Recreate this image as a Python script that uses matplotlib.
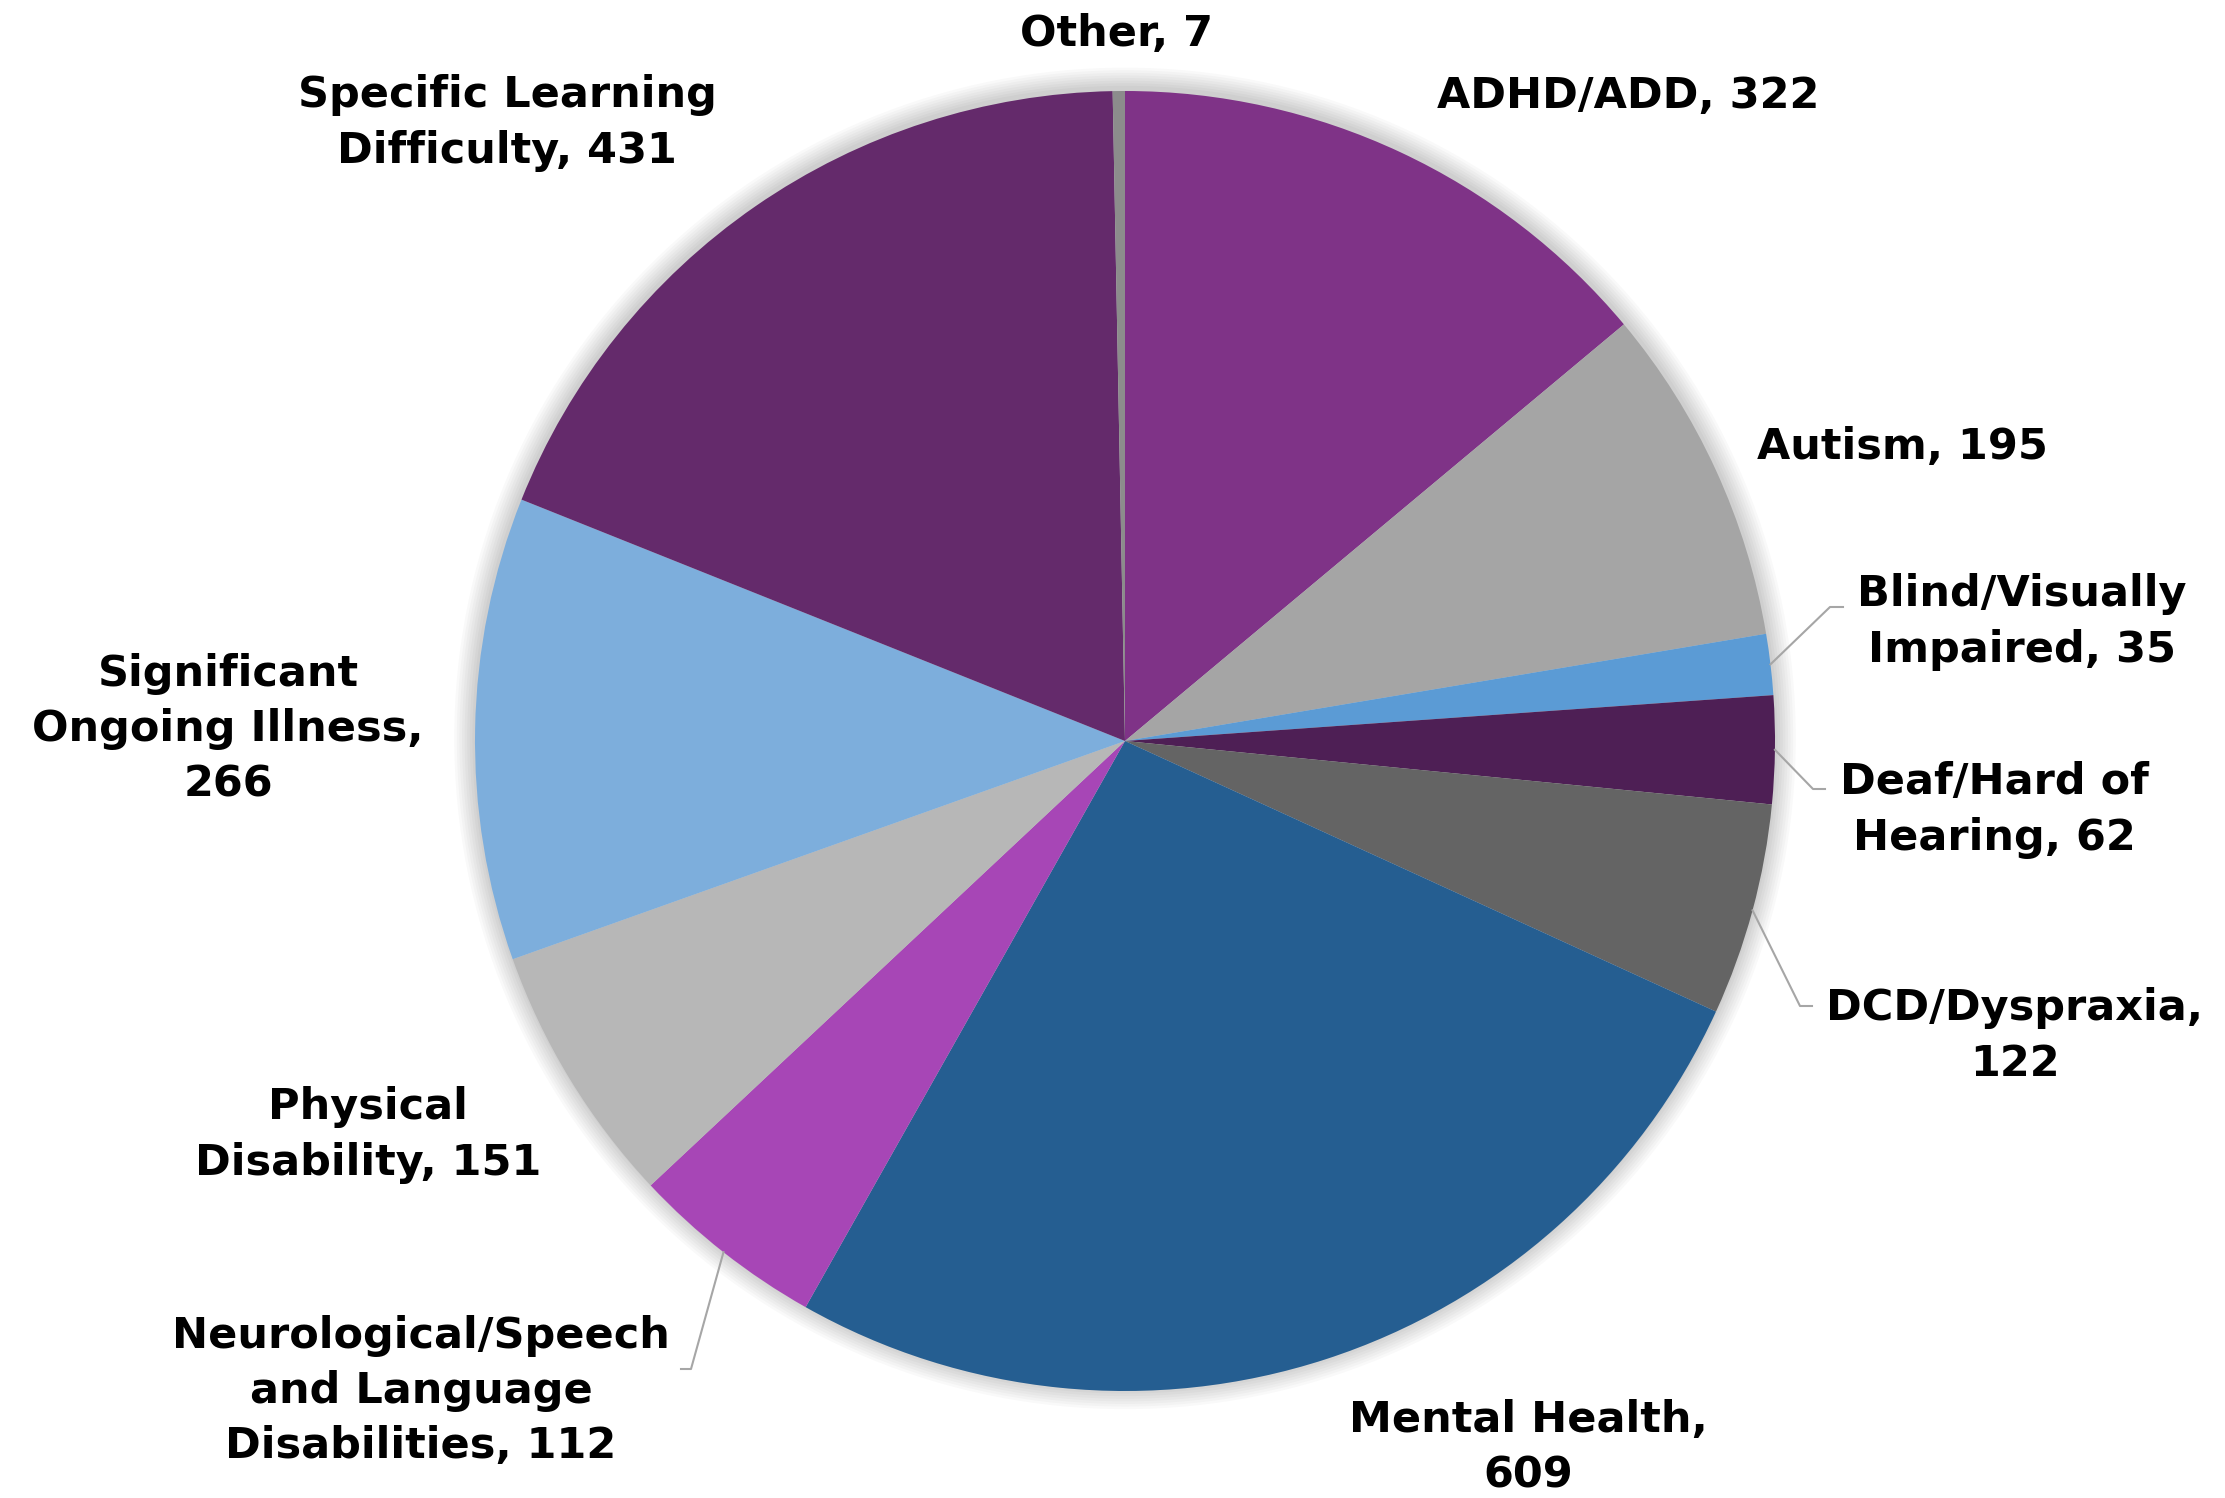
import matplotlib.pyplot as plt
from matplotlib.patches import Circle
import numpy as np

categories = ["ADHD/ADD", "Autism", "Blind/Visually\nImpaired", "Deaf/Hard of\nHearing",
              "DCD/Dyspraxia,\n", "Mental Health,\n", "Neurological/Speech\nand Language\nDisabilities",
              "Physical\nDisability", "Significant\nOngoing Illness,\n", "Specific Learning\nDifficulty", "Other"]
values = [322, 195, 35, 62, 122, 609, 112, 151, 266, 431, 7]
colors = ["#7F3387", "#A5A5A5", "#5B9BD5", "#4E1F55", "#646464", "#255E91",
          "#A746B6", "#B7B7B7", "#7DAEDC", "#642A6B", "#8C8C8C"]

# layout (pixels in the 2225x1498 image)
W, H = 2225, 1498
cx, cy, R = 1125, 741, 650
label_px = [(1628, 96), (1902, 447), (2022, 622), (1994, 810), (2015, 1036), (1528, 1448),
            (421, 1391), (368, 1135), (228, 729), (507, 123), (1117, 34)]
# leader line elbows: index -> (elbow, end)
leaders = {2: ((1830, 607), (1843, 607)),
           3: ((1813, 789), (1825, 789)),
           4: ((1800, 1006), (1812, 1006)),
           6: ((691, 1369), (681, 1369))}


def to_data(p):
    return ((p[0] - cx) / R, (cy - p[1]) / R)


fig = plt.figure(figsize=(W / 100, H / 100), dpi=100)
ax = fig.add_axes([0, 0, 1, 1])

# soft shadow
for k in range(8):
    ax.add_patch(Circle((0, 0.004), 1 + 0.004 * (k + 1), color='black', alpha=0.025, lw=0, zorder=0))

wedges, _ = ax.pie(values, colors=colors, startangle=90, counterclock=False, radius=1,
                   wedgeprops=dict(linewidth=0))
for w in wedges:
    w.set_zorder(1)

ax.set_xlim(-cx / R, (W - cx) / R)
ax.set_ylim(-(H - cy) / R, cy / R)
ax.set_aspect('equal')
ax.axis('off')

for i, (name, v) in enumerate(zip(categories, values)):
    if name.endswith("\n"):
        txt = f"{name}{v}"
    else:
        txt = f"{name}, {v}"
    x, y = to_data(label_px[i])
    ax.text(x, y, txt, ha='center', va='center', multialignment='center',
            fontsize=31, fontweight='bold', family='DejaVu Sans', linespacing=1.4, zorder=3)
    if i in leaders:
        w = wedges[i]
        mid = np.deg2rad((w.theta1 + w.theta2) / 2)
        p0 = (np.cos(mid), np.sin(mid))
        e1 = to_data(leaders[i][0])
        e2 = to_data(leaders[i][1])
        ax.plot([p0[0], e1[0], e2[0]], [p0[1], e1[1], e2[1]], color='#A6A6A6', lw=1.5, zorder=2)

fig.savefig("out.png", dpi=100)
